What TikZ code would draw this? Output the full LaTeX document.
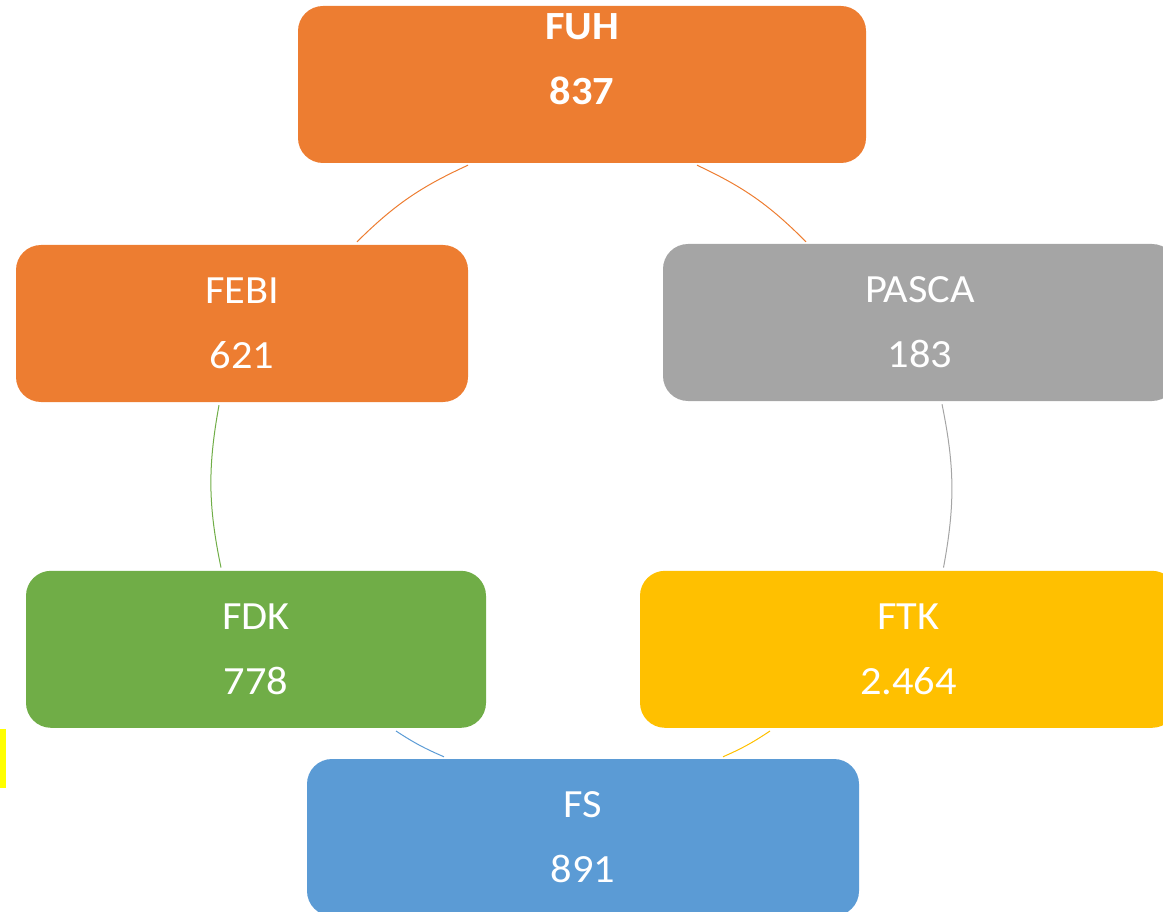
\documentclass[tikz,border=0pt]{standalone}
\usepackage{fontspec}
\setmainfont{Carlito}[FakeStretch=1.06]
\usepackage{xcolor}
\usepackage{tikz}

\definecolor{offOrange}{HTML}{ED7D31}
\definecolor{offGray}{HTML}{A5A5A5}
\definecolor{offGreen}{HTML}{70AD47}
\definecolor{offGold}{HTML}{FFC000}
\definecolor{offBlue}{HTML}{5B9BD5}
\definecolor{markYellow}{HTML}{FFFF00}

\begin{document}
\begin{tikzpicture}[
	  x=1pt, y=-1pt,
	  box/.style={rounded corners=25pt, inner sep=0pt, align=center, text=white,
	    font=\fontsize{40}{65}\selectfont, minimum height=157pt},
	  orangebox/.style={box, fill=offOrange},
	  graybox/.style={box, fill=offGray},
	  greenbox/.style={box, fill=offGreen},
	  goldbox/.style={box, fill=offGold},
	  bluebox/.style={box, fill=offBlue},
	  link/.style={line width=1pt}
	]

	\useasboundingbox (0,0) rectangle (1163,912);

	\node[orangebox, minimum width=568pt] (fuh) at (582,84.5) {\textbf{FUH}\\\textbf{837}\rule[-51pt]{0pt}{51pt}};
	\node[orangebox, minimum width=452pt] (febi) at (242,323.5) {FEBI\\621};
	\node[graybox, minimum width=514pt] (pasca) at (920,322.5) {PASCA\\183};
	\node[greenbox, minimum width=460pt] (fdk) at (256,649.3) {FDK\\778};
	\node[goldbox, minimum width=537pt] (ftk) at (908.5,649.3) {FTK\\2.464};
	\node[bluebox, minimum width=552pt] (fs) at (583,837.5) {FS\\891};

	% cycle, clockwise from the top
	\draw[link, offOrange] ([xshift=115pt,yshift=-2pt]fuh.south) to[bend left=10] ([xshift=-114pt,yshift=2pt]pasca.north);
	\draw[link, offGray] ([xshift=22pt,yshift=-3pt]pasca.south) to[bend left=11] ([xshift=35pt,yshift=3pt]ftk.north);
	\draw[link, offGold] ([xshift=-138.5pt,yshift=-3pt]ftk.south) to[bend left=5] ([xshift=140pt,yshift=2pt]fs.north);
	\draw[link, offBlue] ([xshift=-139pt,yshift=2pt]fs.north) to[bend left=5] ([xshift=140pt,yshift=-3pt]fdk.south);
	\draw[link, offGreen] ([xshift=-35pt,yshift=3pt]fdk.north) to[bend left=11] ([xshift=-23pt,yshift=-3pt]febi.south);
	\draw[link, offOrange] ([xshift=115pt,yshift=3pt]febi.north) to[bend left=10] ([xshift=-114pt,yshift=-2pt]fuh.south);

	\fill[markYellow] (0,729) rectangle (6,788);

	\end{tikzpicture}
\end{document}
